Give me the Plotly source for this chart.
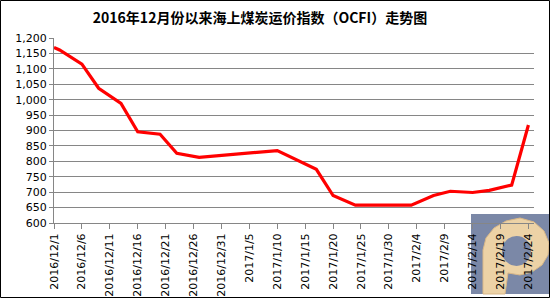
import plotly.graph_objects as go

# Data
dates = ["2016-12-01", "2016-12-02", "2016-12-06", "2016-12-09", "2016-12-13",
         "2016-12-16", "2016-12-20", "2016-12-23", "2016-12-27", "2017-01-10",
         "2017-01-17", "2017-01-20", "2017-01-24", "2017-02-03", "2017-02-07",
         "2017-02-10", "2017-02-14", "2017-02-17", "2017-02-21", "2017-02-24"]
ocfi = [1169, 1161, 1115, 1037, 988,
        896, 888, 826, 813, 835,
        774, 689, 658, 658, 689,
        703, 699, 706, 723, 918]

tick_dates = ["2016-12-01", "2016-12-06", "2016-12-11", "2016-12-16", "2016-12-21",
              "2016-12-26", "2016-12-31", "2017-01-05", "2017-01-10", "2017-01-15",
              "2017-01-20", "2017-01-25", "2017-01-30", "2017-02-04", "2017-02-09",
              "2017-02-14", "2017-02-19", "2017-02-24"]
tick_labels = ["2016/12/1", "2016/12/6", "2016/12/11", "2016/12/16", "2016/12/21",
               "2016/12/26", "2016/12/31", "2017/1/5", "2017/1/10", "2017/1/15",
               "2017/1/20", "2017/1/25", "2017/1/30", "2017/2/4", "2017/2/9",
               "2017/2/14", "2017/2/19", "2017/2/24"]
y_ticks = [600, 650, 700, 750, 800, 850, 900, 950, 1000, 1050, 1100, 1150, 1200]
y_labels = ["600", "650", "700", "750", "800", "850", "900", "950",
            "1,000", "1,050", "1,100", "1,150", "1,200"]

title = "2016年12月份以来海上煤炭运价指数（OCFI）走势图"

fig = go.Figure()
fig.add_trace(go.Scatter(
    x=dates, y=ocfi, mode="lines",
    line=dict(color="#FF0000", width=3.2),
    showlegend=False, hoverinfo="x+y",
))

L, R, T, B = 54, 16, 38, 76
W = 550 - L - R
H = 299 - T - B

def px_x(p):
    return (p - L) / W

def px_y(p):
    return (299 - B - p) / H

def px_path(points):
    parts = []
    for i, (a, b) in enumerate(points):
        parts.append(("M" if i == 0 else "L") + f"{px_x(a):.5f},{px_y(b):.5f}")
    return " ".join(parts) + " Z"

logo_outline = [(483, 294), (483, 250), (486, 238), (494, 228), (506, 221),
                (520, 218), (534, 222), (544, 231), (549, 243), (548, 255),
                (542, 265), (532, 272), (520, 275), (508, 273), (505, 294)]

fig.update_layout(
    width=550, height=299,
    margin=dict(l=L, r=R, t=T, b=B, pad=0, autoexpand=False),
    paper_bgcolor="white", plot_bgcolor="white",
    font=dict(family="DejaVu Sans", size=11, color="#000000"),
    title=dict(text="<b>" + title + "</b>", x=260 / 550, xref="container",
               xanchor="center", y=1 - 18 / 299, yref="container", yanchor="middle",
               font=dict(family="Noto Sans CJK SC", size=14, color="#000000"),
               automargin=False),
    xaxis=dict(
        type="date", range=["2016-12-01", "2017-02-25"],
        tickvals=tick_dates, ticktext=tick_labels, tickangle=-90,
        showgrid=False, showline=True, linecolor="#868686", linewidth=1,
        ticks="outside", ticklen=5, tickcolor="#868686",
        tickfont=dict(family="DejaVu Sans", size=11, color="#000000"),
        zeroline=False, automargin=False,
    ),
    yaxis=dict(
        range=[600, 1200], tickvals=y_ticks, ticktext=y_labels,
        showgrid=True, gridcolor="#868686", gridwidth=1,
        showline=True, linecolor="#868686", linewidth=1,
        ticks="outside", ticklen=4, tickcolor="#868686",
        tickfont=dict(family="DejaVu Sans", size=11, color="#000000"),
        zeroline=False, automargin=False,
    ),
    shapes=[
        # watermark background
        dict(type="rect", xref="paper", yref="paper", layer="below",
             x0=px_x(471), x1=px_x(549), y0=px_y(294), y1=px_y(214),
             fillcolor="#7b88a7", line=dict(width=0)),
        dict(type="path", xref="paper", yref="paper", layer="below",
             path=px_path(logo_outline),
             fillcolor="#ecd2a6", line=dict(color="#d9b888", width=1)),
        dict(type="circle", xref="paper", yref="paper", layer="below",
             x0=px_x(502), x1=px_x(531), y0=px_y(266), y1=px_y(236),
             fillcolor="#7b88a7", line=dict(width=0)),
        # chart border
        dict(type="rect", xref="paper", yref="paper", layer="above",
             x0=px_x(0.5), x1=px_x(549.5), y0=px_y(297.5), y1=px_y(0.5),
             line=dict(color="#000000", width=1)),
    ],
)

fig.write_html("out.html")
